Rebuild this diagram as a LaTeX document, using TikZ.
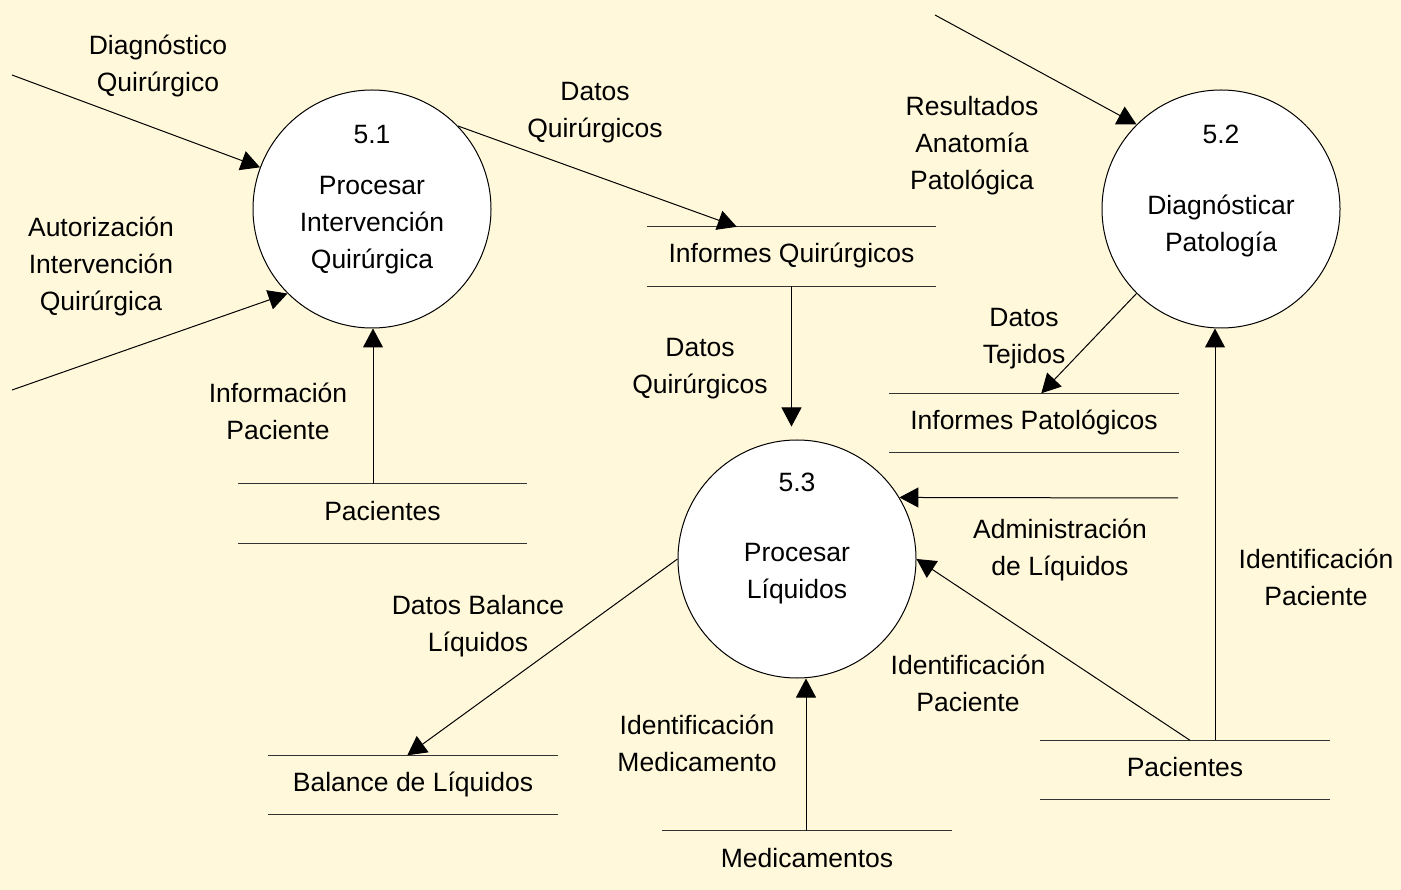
\documentclass[tikz,border=0pt]{standalone}
\usepackage{fontspec}
\setmainfont{Liberation Sans}
\usetikzlibrary{arrows.meta}
\definecolor{paper}{RGB}{255,248,218}
\begin{document}
\begin{tikzpicture}[x=1pt,y=-1pt,
  every node/.style={font=\fontsize{26.5}{37}\selectfont, text=black},
  process/.style={circle, draw=black, fill=white, line width=1pt, minimum size=238pt, inner sep=0pt},
  lbl/.style={align=center, inner sep=0pt},
  store/.style={minimum width=289pt, minimum height=59pt, inner sep=0pt, text height=19pt, text depth=6pt},
  storeline/.style={draw=black!80, line width=1.2pt},
  flow/.style={-{Triangle[length=19pt,width=20pt]}, line width=1pt, draw=black}]

% canvas
\fill[paper] (0,0) rectangle (1401,890);
\useasboundingbox (0,0) rectangle (1401,890);

% processes
\node[process] (p51) at (372,209) {};
\node[lbl] (p51n) at ([yshift=74pt]p51.center) {5.1};
\node[lbl] (p51t) at ([yshift=-16pt]p51.center) {Procesar\\Intervención\\Quirúrgica};

\node[process] (p52) at (1221,209) {};
\node[lbl] (p52n) at ([yshift=75pt]p52.center) {5.2};
\node[lbl] (p52t) at ([yshift=-16.5pt]p52.center) {Diagnósticar\\Patología};

\node[process] (p53) at (797,559) {};
\node[lbl] (p53n) at ([yshift=77pt]p53.center) {5.3};
\node[lbl] (p53t) at ([yshift=-15pt]p53.center) {Procesar\\Líquidos};

% data stores
\node[store] (iq)   at (791.5,256.5) {Informes Quirúrgicos};
\node[store] (ip)   at (1034,423)    {Informes Patológicos};
\node[store] (pac1) at (382.5,513.5) {Pacientes};
\node[store] (bal)  at (413,785)     {Balance de Líquidos};
\node[store] (pac2) at (1185,770)    {Pacientes};
\node[store] (med)  at (807,860.5)   {Medicamentos};

\foreach \s in {iq,ip,pac1,bal,pac2}
  \draw[storeline] (\s.north west) -- (\s.north east) (\s.south west) -- (\s.south east);
\draw[storeline] (med.north west) -- (med.north east);

% free ends of outside flows
\coordinate (inDiag) at (12,75);
\coordinate (inAuto) at (12,390);
\coordinate (inRes)  at (935,15);
\coordinate (inAdm)  at (1178,498);

% flows
\draw[flow] (inDiag) -- (p51);
\draw[flow] (inAuto) -- (p51.225);
\draw[flow] ([xshift=-9.5pt]pac1.north) -- ([xshift=-9.5pt]pac1.north |- p51.south);
\draw[flow] (p51.44) -- ([xshift=90pt]iq.north west);
\draw[flow, shorten >=13pt] (iq.south) -- (iq.south |- p53.north);
\draw[flow] (inRes) -- (p52.135);
\draw[flow] (p52.225) -- ([xshift=152pt]ip.north west);
\draw[flow] ([xshift=30pt]pac2.north) -- ([xshift=30pt]pac2.north |- p52.south);
\draw[flow] (inAdm) -- (p53.31);
\draw[flow] ([xshift=5pt]pac2.north) -- (p53.east);
\draw[flow] ([xshift=-1pt]med.north) -- ([xshift=-1pt]med.north |- p53.south);
\draw[flow] (p53.west) -- ([xshift=139pt]bal.north west);

% flow labels
\node[lbl] (lDiag) at (158,65.5)  {Diagnóstico\\Quirúrgico};
\node[lbl] (lAuto) at (101,266)   {Autorización\\Intervención\\Quirúrgica};
\node[lbl] (lDQ1)  at (595,112.5) {Datos\\Quirúrgicos};
\node[lbl] (lRes)  at (972,146)   {Resultados\\Anatomía\\Patológica};
\node[lbl] (lTej)  at (1024,339)  {Datos\\Tejidos};
\node[lbl] (lDQ2)  at (700,368.5) {Datos\\Quirúrgicos};
\node[lbl] (lInfo) at (278,411.5) {Información\\Paciente};
\node[lbl] (lAdm)  at (1060,549.5){Administración\\de Líquidos};
\node[lbl] (lIdP1) at (1316,577.5){Identificación\\Paciente};
\node[lbl] (lBal)  at (478,626.5) {Datos Balance\\Líquidos};
\node[lbl] (lIdP2) at (968,683.5) {Identificación\\Paciente};
\node[lbl] (lMed)  at (697,743.5) {Identificación\\Medicamento};
\end{tikzpicture}
\end{document}
